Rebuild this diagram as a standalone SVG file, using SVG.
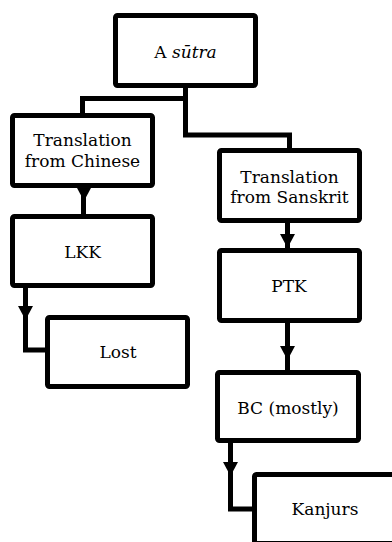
<svg xmlns="http://www.w3.org/2000/svg" xmlns:xlink="http://www.w3.org/1999/xlink" width="392" height="542" viewBox="0 0 392 542">
<style>
.box{fill:#fff;stroke:#000;stroke-width:5}
.wire{fill:none;stroke:#000;stroke-width:5;stroke-linejoin:miter}
.t{font-family:"DejaVu Serif","Liberation Serif",serif;font-size:17px;fill:#000;text-anchor:middle}
</style>
<defs>
<path id="ah" d="M-7.5,0 L7.5,0 L0,14 Z" fill="#000"/>
</defs>
<rect width="392" height="542" fill="#fff"/>
<g id="connectors">
<path class="wire" d="M185.5,88 V98.5 H82.5 V113"/>
<path class="wire" d="M185.5,88 V135 H289.5 V148"/>
<path class="wire" d="M83.5,188 V214"/>
<use xlink:href="#ah" x="84" y="187"/>
<path class="wire" d="M287.5,223 V248"/>
<use xlink:href="#ah" x="287.5" y="234"/>
<path class="wire" d="M287.5,323 V370"/>
<use xlink:href="#ah" x="287.5" y="346"/>
<path class="wire" d="M25.5,288 V350 H45"/>
<use xlink:href="#ah" x="25.5" y="306"/>
<path class="wire" d="M230.5,443 V509 H254"/>
<use xlink:href="#ah" x="230.5" y="462"/>
</g>
<g id="sutra">
<rect class="box" x="115.5" y="15.5" width="140" height="70" rx="2"/>
<text class="t" x="185.5" y="58">A <tspan font-style="italic">sūtra</tspan></text>
</g>
<g id="chinese">
<rect class="box" x="12.5" y="115.5" width="140" height="70" rx="2"/>
<text class="t" x="82.5" y="146">Translation</text>
<text class="t" x="82.5" y="167">from Chinese</text>
</g>
<g id="sanskrit">
<rect class="box" x="219.5" y="150.5" width="140" height="70" rx="2"/>
<text class="t" x="289.5" y="183">Translation</text>
<text class="t" x="289.5" y="203">from Sanskrit</text>
</g>
<g id="lkk">
<rect class="box" x="12.5" y="216.5" width="140" height="69" rx="2"/>
<text class="t" x="82.5" y="258">LKK</text>
</g>
<g id="lost">
<rect class="box" x="47.5" y="317.5" width="140" height="69" rx="2"/>
<text class="t" x="118" y="358">Lost</text>
</g>
<g id="ptk">
<rect class="box" x="219.5" y="250.5" width="140" height="70" rx="2"/>
<text class="t" x="289" y="292">PTK</text>
</g>
<g id="bc">
<rect class="box" x="217.5" y="372.5" width="141" height="68" rx="2"/>
<text class="t" x="288" y="414">BC (mostly)</text>
</g>
<g id="kanjurs">
<rect class="box" x="254.5" y="474.5" width="145" height="69" rx="2"/>
<text class="t" x="325" y="515">Kanjurs</text>
</g>
</svg>
